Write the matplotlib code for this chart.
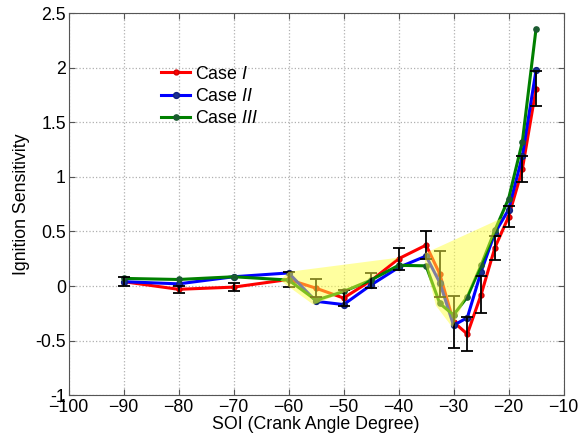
import matplotlib
matplotlib.use("Agg")
import matplotlib.pyplot as plt
from matplotlib.patches import Polygon

plt.rcParams['font.family'] = ['Liberation Sans', 'DejaVu Sans']
plt.rcParams['mathtext.fontset'] = 'custom'
plt.rcParams['mathtext.it'] = 'Liberation Sans:italic'
plt.rcParams['mathtext.rm'] = 'Liberation Sans'

soi = [-90, -80, -70, -60, -55, -50, -45, -40, -35, -32.5, -30, -27.5, -25, -22.5, -20, -17.5, -15]
case1 = [0.04, -0.03, -0.01, 0.06, -0.02, -0.11, 0.05, 0.25, 0.375, 0.11, -0.33, -0.44, -0.08, 0.35, 0.635, 1.07, 1.81]
case2 = [0.04, 0.02, 0.085, 0.12, -0.14, -0.17, 0.01, 0.17, 0.275, 0.03, -0.36, -0.29, 0.13, 0.485, 0.70, 1.19, 1.98]
case3 = [0.07, 0.06, 0.085, 0.055, -0.13, -0.05, 0.055, 0.19, 0.185, -0.16, -0.265, -0.10, 0.19, 0.51, 0.80, 1.32, 2.36]
err1 = [0.043, 0.03, 0.04, 0.07, 0.08, 0.075, 0.07, 0.10, 0.125, 0.215, 0.24, 0.155, 0.17, 0.11, 0.095, 0.12, 0.16]

highlight1 = [(-61.5, 0.05), (-60, 0.13), (-40, 0.26), (-47, 0.0), (-55.5, -0.17)]
highlight2 = [(-35.2, 0.30), (-21.3, 0.62), (-30.2, -0.38), (-33.2, -0.18), (-35.2, 0.22)]

fig = plt.figure(figsize=(5.81, 4.42), dpi=100)
ax = fig.add_axes([0.118, 0.106, 0.852, 0.864])

ax.plot(soi, case1, '-o', color='#ff0000', lw=2.2, ms=3.5, mec='#d00000', label='Case $\\it{I}$', zorder=3)
ax.plot(soi, case2, '-o', color='#0000ff', lw=2.2, ms=4.2, mec='#102080', mfc='#1a3090', label='Case $\\it{II}$', zorder=3)
ax.plot(soi, case3, '-o', color='#008000', lw=2.2, ms=3.8, mec='#1a5a30', mfc='#1a5a30', label='Case $\\it{III}$', zorder=3)
ax.errorbar(soi, case1, yerr=err1, fmt='none', ecolor='black', elinewidth=1.3, capsize=4, capthick=1.3, zorder=4)

for poly in (highlight1, highlight2):
    ax.add_patch(Polygon(poly, closed=True, facecolor=(1, 1, 0.25), edgecolor='none', alpha=0.5, zorder=5))

ax.set_xlim(-100, -10)
ax.set_ylim(-1, 2.5)
ax.set_xticks(range(-100, -9, 10))
ax.set_yticks([-1, -0.5, 0, 0.5, 1, 1.5, 2, 2.5])
ax.set_yticklabels(['-1', '-0.5', '0', '0.5', '1', '1.5', '2', '2.5'])
ax.tick_params(direction='in', top=True, right=True, labelsize=12.8, length=4, color='#555555')
ax.tick_params(axis='y', pad=2)
ax.tick_params(axis='x', pad=3)
ax.grid(True, linestyle=':', color='#b0b0b0', lw=0.9)
for s in ax.spines.values():
    s.set_color('#555555')
ax.set_xlabel('SOI (Crank Angle Degree)', fontsize=12.8, labelpad=0)
ax.set_ylabel('Ignition Sensitivity', fontsize=12.8, labelpad=4)

ax.legend(loc='upper left', bbox_to_anchor=(0.155, 0.905), frameon=False, fontsize=12.8,
          handlelength=1.6, handletextpad=0.3, labelspacing=0.3)

fig.savefig('out.png', dpi=100)
